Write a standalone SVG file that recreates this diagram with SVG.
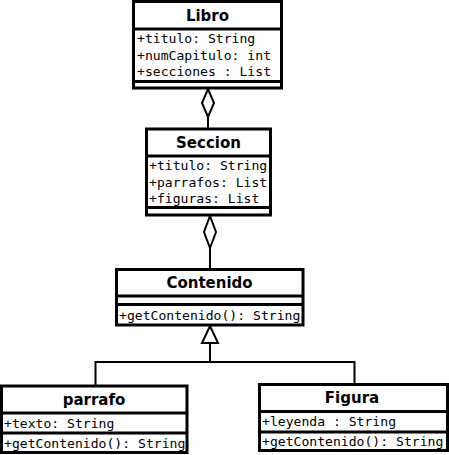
<svg xmlns="http://www.w3.org/2000/svg" width="449" height="455" viewBox="0 0 449 455">
<style>
.box{fill:#fff;stroke:#000;stroke-width:3}
.sep{stroke:#000;stroke-width:3}
.title{font-family:"DejaVu Sans",sans-serif;font-weight:bold;font-size:15px;text-anchor:middle;fill:#000}
.mem{font-family:"DejaVu Sans Mono",monospace;font-size:13.1px;fill:#000}
.con{fill:none;stroke:#000;stroke-width:2}
.head{fill:#fff;stroke:#000;stroke-width:2}
</style>
<rect width="449" height="455" fill="#fff"/>
<g id="connectors">
<line class="con" x1="208" y1="117" x2="208" y2="129"/>
<polygon class="head" points="208,89 214,103 208,117 202,103"/>
<line class="con" x1="210" y1="248" x2="210" y2="269"/>
<polygon class="head" points="210,216 216,232 210,248 204,232"/>
<polyline class="con" points="210,343 210,362 95.5,362 95.5,386"/>
<polyline class="con" points="210,362 354.5,362 354.5,384"/>
<polygon class="head" points="210,326 218,343 202,343"/>
</g>
<g id="Libro">
<rect class="box" x="133.5" y="1.5" width="148" height="86.5"/>
<line class="sep" x1="133.5" y1="29" x2="281.5" y2="29"/>
<line class="sep" x1="133.5" y1="81.5" x2="281.5" y2="81.5"/>
<text class="title" x="207.5" y="21">Libro</text>
<text class="mem" x="137" y="43">+titulo: String</text>
<text class="mem" x="137" y="59.5">+numCapitulo: int</text>
<text class="mem" x="137" y="76">+secciones : List</text>
</g>
<g id="Seccion">
<rect class="box" x="146.5" y="129" width="124" height="86"/>
<line class="sep" x1="146.5" y1="156" x2="270.5" y2="156"/>
<line class="sep" x1="146.5" y1="207.5" x2="270.5" y2="207.5"/>
<text class="title" x="208.5" y="148">Seccion</text>
<text class="mem" x="149" y="170">+titulo: String</text>
<text class="mem" x="149" y="186.5">+parrafos: List</text>
<text class="mem" x="149" y="203">+figuras: List</text>
</g>
<g id="Contenido">
<rect class="box" x="116.5" y="269.5" width="186.5" height="55.5"/>
<line class="sep" x1="116.5" y1="296" x2="303" y2="296"/>
<line class="sep" x1="116.5" y1="304.5" x2="303" y2="304.5"/>
<text class="title" x="209.5" y="288">Contenido</text>
<text class="mem" x="119" y="319.5">+getContenido(): String</text>
</g>
<g id="parrafo">
<rect class="box" x="1.5" y="386" width="185.5" height="66.5"/>
<line class="sep" x1="1.5" y1="413" x2="187" y2="413"/>
<line class="sep" x1="1.5" y1="433" x2="187" y2="433"/>
<text class="title" x="94" y="405">parrafo</text>
<text class="mem" x="4" y="428">+texto: String</text>
<text class="mem" x="4" y="448">+getContenido(): String</text>
</g>
<g id="Figura">
<rect class="box" x="259.5" y="384.5" width="188" height="66"/>
<line class="sep" x1="259.5" y1="411.5" x2="447.5" y2="411.5"/>
<line class="sep" x1="259.5" y1="432" x2="447.5" y2="432"/>
<text class="title" x="352" y="403">Figura</text>
<text class="mem" x="262" y="426">+leyenda : String</text>
<text class="mem" x="262" y="446">+getContenido(): String</text>
</g>
</svg>
